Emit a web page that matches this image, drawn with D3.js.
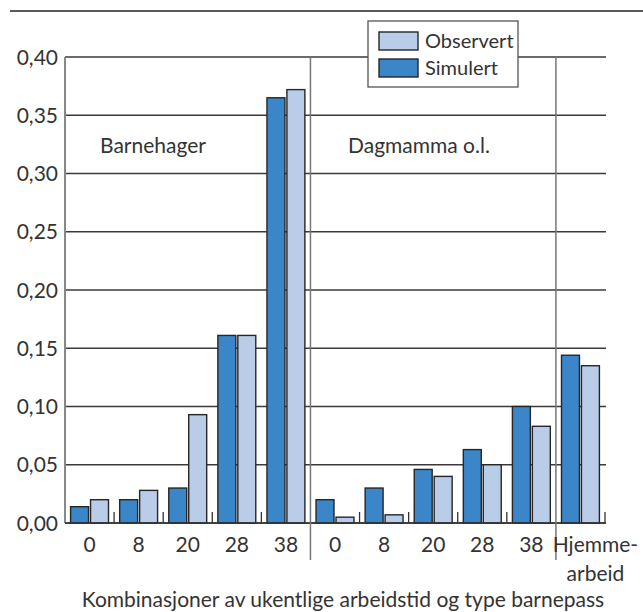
<!DOCTYPE html>
<html>
<head>
<meta charset="utf-8">
<script src="https://cdn.jsdelivr.net/npm/d3@7"></script>
<style>
  body { margin: 0; background: #fff; }
  svg { display: block; font-family: Lato, 'Open Sans', sans-serif; }
</style>
</head>
<body>
<div id="chart"></div>
<script>
// values (share of households)
const categories = ['0', '8', '20', '28', '38', '0', '8', '20', '28', '38', 'Hjemme-arbeid']
const simulert = [0.014, 0.020, 0.030, 0.161, 0.365, 0.020, 0.030, 0.046, 0.063, 0.100, 0.144]
const observert = [0.020, 0.028, 0.093, 0.161, 0.372, 0.005, 0.007, 0.040, 0.050, 0.083, 0.135]
const yTicks = [0, 0.05, 0.10, 0.15, 0.20, 0.25, 0.30, 0.35, 0.40]
const dividers = [5, 10] // group index where a new block of care type starts
const series = ['Simulert', 'Observert']
const colors = { Simulert: '#3a86c8', Observert: '#b9cde9' }

const width = 643
const height = 612
const margin = { top: 57, right: 38, bottom: 89, left: 65 }
const fontSize = 21
const textColor = '#333'

const svg = d3.select('#chart').append('svg')
  .attr('width', width)
  .attr('height', height)

const x = d3.scaleBand()
  .domain(d3.range(categories.length))
  .range([margin.left, width - margin.right])

const xInner = d3.scaleBand()
  .domain(series)
  .range([0, x.bandwidth()])
  .paddingInner(0.1)
  .paddingOuter(0.28)

const y = d3.scaleLinear()
  .domain([0, 0.4])
  .range([height - margin.bottom, margin.top])

const fmt = d => d3.format('.2f')(d).replace('.', ',')

// rule at the very top
svg.append('line')
  .attr('x1', 10).attr('x2', width)
  .attr('y1', 11).attr('y2', 11)
  .attr('stroke', '#222').attr('stroke-width', 1.5)

// horizontal grid
svg.append('g')
  .selectAll('line')
  .data(yTicks)
  .enter()
  .append('line')
  .attr('x1', margin.left)
  .attr('x2', width - margin.right + 1)
  .attr('y1', d => y(d))
  .attr('y2', d => y(d))
  .attr('stroke', '#3a3a3a')
  .attr('stroke-width', 1.3)

// y tick labels
svg.append('g')
  .selectAll('text')
  .data(yTicks)
  .enter()
  .append('text')
  .attr('x', margin.left - 7)
  .attr('y', d => y(d))
  .attr('dy', '0.36em')
  .attr('text-anchor', 'end')
  .attr('font-size', fontSize)
  .attr('fill', textColor)
  .text(fmt)

// small ticks between groups on the baseline
svg.append('g')
  .selectAll('line')
  .data(d3.range(1, categories.length + 1).filter(i => !dividers.includes(i)))
  .enter()
  .append('line')
  .attr('x1', i => x.range()[0] + i * x.step())
  .attr('x2', i => x.range()[0] + i * x.step())
  .attr('y1', y(0))
  .attr('y2', y(0) - 11)
  .attr('stroke', '#333')
  .attr('stroke-width', 1.3)

// bars
const gBars = svg.append('g')
categories.forEach((c, i) => {
  const vals = { Simulert: simulert[i], Observert: observert[i] }
  gBars.selectAll(null)
    .data(series)
    .enter()
    .append('rect')
    .attr('x', s => x(i) + xInner(s))
    .attr('y', s => y(vals[s]))
    .attr('width', xInner.bandwidth())
    .attr('height', s => y(0) - y(vals[s]))
    .attr('fill', s => colors[s])
    .attr('stroke', '#262626')
    .attr('stroke-width', 1.4)
})

// vertical axis line
svg.append('line')
  .attr('x1', margin.left).attr('x2', margin.left)
  .attr('y1', y(0.4)).attr('y2', y(0))
  .attr('stroke', '#888').attr('stroke-width', 2)

// baseline
svg.append('line')
  .attr('x1', margin.left).attr('x2', width - margin.right + 1)
  .attr('y1', y(0)).attr('y2', y(0))
  .attr('stroke', '#333').attr('stroke-width', 1.5)

// block dividers
svg.append('g')
  .selectAll('line')
  .data(dividers)
  .enter()
  .append('line')
  .attr('x1', i => x.range()[0] + i * x.step())
  .attr('x2', i => x.range()[0] + i * x.step())
  .attr('y1', y(0.4))
  .attr('y2', 560)
  .attr('stroke', '#777')
  .attr('stroke-width', 1.5)

// x labels
const gx = svg.append('g')
categories.forEach((c, i) => {
  const lines = c.includes('-') ? [c.split('-')[0] + '-', c.split('-')[1]] : [c]
  const cx = lines.length > 1 ? x(i) + x.bandwidth() / 2 + 15 : x(i) + x.bandwidth() / 2
  gx.append('text')
    .attr('x', cx)
    .attr('y', 552)
    .attr('text-anchor', 'middle')
    .attr('font-size', fontSize)
    .attr('fill', textColor)
    .selectAll('tspan')
    .data(lines)
    .enter()
    .append('tspan')
    .attr('x', cx)
    .attr('dy', (d, k) => k === 0 ? 0 : 29)
    .text(d => d)
})

// axis title
svg.append('text')
  .attr('x', 343)
  .attr('y', 607)
  .attr('text-anchor', 'middle')
  .attr('font-size', fontSize)
  .attr('fill', textColor)
  .text('Kombinasjoner av ukentlige arbeidstid og type barnepass')

// block labels
svg.append('text')
  .attr('x', 100).attr('y', 153)
  .attr('font-size', fontSize).attr('fill', textColor)
  .text('Barnehager')
svg.append('text')
  .attr('x', 348).attr('y', 153)
  .attr('font-size', fontSize).attr('fill', textColor)
  .text('Dagmamma o.l.')

// legend
const legend = svg.append('g').attr('transform', 'translate(368, 21)')
legend.append('rect')
  .attr('width', 150).attr('height', 66)
  .attr('fill', '#fff').attr('stroke', '#555').attr('stroke-width', 1.3)
const legendItems = ['Observert', 'Simulert']
legend.selectAll('g')
  .data(legendItems)
  .enter()
  .append('g')
  .attr('transform', (d, k) => `translate(11, ${11 + k * 27})`)
  .each(function (d) {
    const g = d3.select(this)
    g.append('rect')
      .attr('width', 39).attr('height', 18)
      .attr('fill', colors[d]).attr('stroke', '#262626').attr('stroke-width', 1.4)
    g.append('text')
      .attr('x', 46).attr('y', 9).attr('dy', '0.36em')
      .attr('font-size', fontSize - 1).attr('fill', textColor)
      .text(d)
  })
</script>
</body>
</html>
